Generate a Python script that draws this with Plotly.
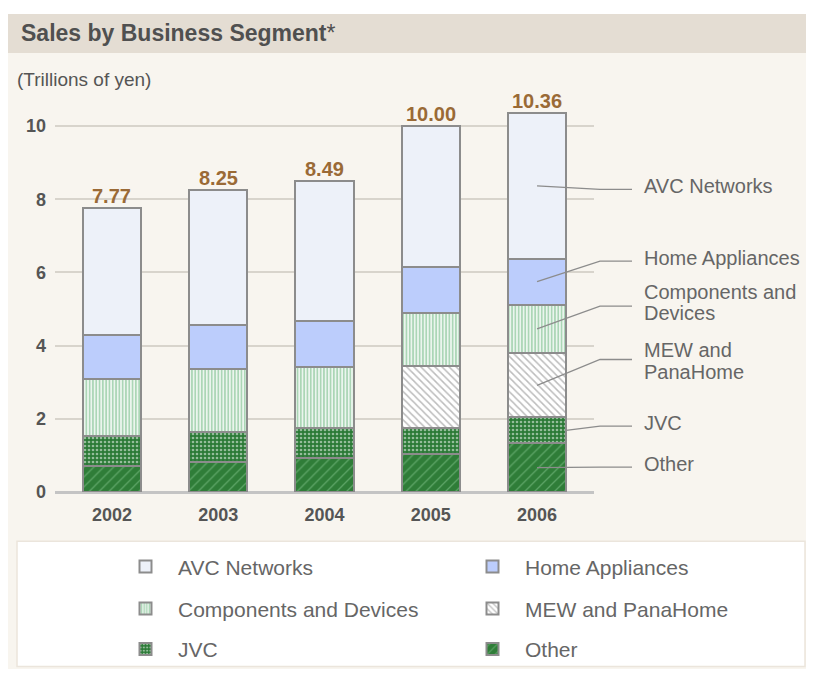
import plotly.graph_objects as go

# ---------------- data ----------------
years = ["2002", "2003", "2004", "2005", "2006"]
totals = [7.77, 8.25, 8.49, 10.00, 10.36]
other = [0.70, 0.82, 0.94, 1.05, 1.33]
jvc = [0.83, 0.82, 0.80, 0.70, 0.71]
mew_panahome = [None, None, None, 1.70, 1.75]
components = [1.55, 1.72, 1.67, 1.45, 1.33]
home_appliances = [1.21, 1.21, 1.27, 1.25, 1.25]
avc_networks = [3.48, 3.68, 3.81, 3.85, 3.99]
y_ticks = [0, 2, 4, 6, 8, 10]

# ---------------- layout constants (page pixels) ----------------
OFF = 8                      # default page margin of the html body
W, H = 798, 661
PL, PR, PT, PB = 55, 594, 100, 491.7   # plot area in page pixels
ML = PL - OFF
MR = W - (PR - OFF)
MT = PT - OFF
MB = H - (PB - OFF)
PX_PER_UNIT = 36.57
YMAX = (PB - PT) / PX_PER_UNIT
XMIN, XMAX = -0.536, 4.536
BAR_W = 0.546
FONT = "Liberation Sans, Arial, sans-serif"
GRAY_TXT = "#555555"
LABEL_TXT = "#666666"
OUTLINE = "#8c8c8c"


def px(xp):
    return (xp - PL) / (PR - PL)


def py(yp):
    return (PB - yp) / (PB - PT)


xs = list(range(len(years)))

series = [
    ("Other", other, "legend3",
     dict(color="#2f7d38", pattern=dict(shape="/", fgcolor="#8ccb95", bgcolor="#2f7d38", size=7, solidity=0.18))),
    ("JVC", jvc, "legend3",
     dict(color="#2b7a36", pattern=dict(shape=".", fgcolor="#ffffff", bgcolor="#2b7a36", size=4, solidity=0.35))),
    ("MEW and PanaHome", mew_panahome, "legend2",
     dict(color="#ffffff", pattern=dict(shape="\\", fgcolor="#7a7a7a", bgcolor="#ffffff", size=5, solidity=0.3))),
    ("Components and Devices", components, "legend2",
     dict(color="#ffffff", pattern=dict(shape="|", fgcolor="#58ad6e", bgcolor="#ffffff", size=3.3, solidity=0.62))),
    ("Home Appliances", home_appliances, "legend",
     dict(color="#bccdfc")),
    ("AVC Networks", avc_networks, "legend",
     dict(color="#edf1f9")),
]

fig = go.Figure()
for name, vals, lg, mk in series:
    mk = dict(mk)
    mk["line"] = dict(color=OUTLINE, width=2)
    fig.add_trace(go.Bar(x=xs, y=vals, name=name, width=BAR_W, marker=mk,
                         legend=lg, hoverinfo="name+y"))

annotations = []
# totals above bars
for i, t in enumerate(totals):
    annotations.append(dict(x=xs[i], y=t, xref="x", yref="y", text=f"{t:.2f}",
                            showarrow=False, yanchor="bottom", yshift=-1,
                            font=dict(family=FONT, size=20, color="#9a6a36", weight="bold")))

# callouts for the last year
last = len(years) - 1
callout_pos = {  # label y (data units) and text lines with pixel shifts
    "AVC Networks": (8.27, [("AVC Networks", 3)]),
    "Home Appliances": (6.31, [("Home Appliances", 3)]),
    "Components and Devices": (5.08, [("Components and", 14), ("Devices", -7)]),
    "MEW and PanaHome": (3.62, [("MEW and", 10), ("PanaHome", -12)]),
    "JVC": (1.80, [("JVC", 3)]),
    "Other": (0.68, [("Other", 3)]),
}
callout_shapes = []
bottom = 0.0
x_bend = px(600)
x_end = px(632)
x_lab = px(642)
for name, vals, lg, mk in series:
    v = vals[last] or 0.0
    mid = bottom + v / 2
    bottom += v
    ly, lines = callout_pos[name]
    xi = xs[last] + (BAR_W / 2 if name == "JVC" else 0)
    xc = (xi - XMIN) / (XMAX - XMIN)
    callout_shapes.append(dict(type="path", xref="x domain", yref="y",
                               path=f"M {xc},{mid} L {x_bend},{ly} L {x_end},{ly}",
                               line=dict(color="#8c8c8c", width=1.3), layer="above"))
    for txt, ys in lines:
        annotations.append(dict(x=x_lab, y=ly, xref="x domain", yref="y", text=txt,
                                showarrow=False, xanchor="left", yanchor="middle", yshift=ys,
                                font=dict(family=FONT, size=20, color=LABEL_TXT)))

# title and unit
annotations.append(dict(x=px(19), y=py(33), xref="paper", yref="paper",
                        text="<b>Sales by Business Segment</b>*", showarrow=False,
                        xanchor="left", yanchor="middle",
                        font=dict(family=FONT, size=23, color="#505050")))
annotations.append(dict(x=px(15), y=py(80), xref="paper", yref="paper",
                        text="(Trillions of yen)", showarrow=False,
                        xanchor="left", yanchor="middle",
                        font=dict(family=FONT, size=19, color="#555555")))

# background panels
shapes = [
    dict(type="rect", xref="paper", yref="paper", x0=px(8), x1=px(OFF + W), y0=py(OFF + H), y1=py(53),
         fillcolor="#f8f5ef", line=dict(width=0), layer="below"),
    dict(type="rect", xref="paper", yref="paper", x0=px(8), x1=px(OFF + W), y0=py(53), y1=py(14),
         fillcolor="#e4ddd3", line=dict(width=0), layer="below"),
    dict(type="rect", xref="paper", yref="paper", x0=px(17), x1=px(OFF + W - 1), y0=py(OFF + H - 3), y1=py(541),
         fillcolor="#ffffff", line=dict(color="#ebe5dc", width=1.5), layer="below"),
] + callout_shapes

ITEMW = 55
ENTRYW = 277
LEG_LEFT = 113
LEG_RIGHT = LEG_LEFT + 2 * (ITEMW + 10 + ENTRYW + 5)
leg_common = dict(orientation="h", xanchor="right", yanchor="middle", x=px(LEG_RIGHT),
                  entrywidth=ENTRYW, entrywidthmode="pixels", itemwidth=ITEMW,
                  traceorder="reversed", bgcolor="rgba(0,0,0,0)", borderwidth=0,
                  font=dict(family=FONT, size=21, color=LABEL_TXT))

fig.update_layout(
    width=W, height=H,
    margin=dict(l=ML, r=MR, t=MT, b=MB, autoexpand=False),
    paper_bgcolor="#ffffff", plot_bgcolor="rgba(0,0,0,0)",
    barmode="stack", bargap=0,
    showlegend=True,
    legend=dict(y=py(566.5), **leg_common),
    legend2=dict(y=py(608.5), **leg_common),
    legend3=dict(y=py(649), **leg_common),
    xaxis=dict(range=[XMIN, XMAX], tickvals=xs, ticktext=years, showgrid=False,
               zeroline=False, showline=False, ticks="", ticklabelstandoff=10,
               tickfont=dict(family=FONT, size=18, color=GRAY_TXT, weight="bold"), fixedrange=True),
    yaxis=dict(range=[0, YMAX], tickvals=y_ticks, showgrid=True, gridcolor="#d8d4cc", gridwidth=1.5,
               zeroline=True, zerolinecolor="#c4c4c4", zerolinewidth=3, showline=False, ticks="",
               ticklabelstandoff=8,
               tickfont=dict(family=FONT, size=18, color=GRAY_TXT, weight="bold"), fixedrange=True),
    shapes=shapes,
    annotations=annotations,
    font=dict(family=FONT),
)

fig.write_html("out.html")
